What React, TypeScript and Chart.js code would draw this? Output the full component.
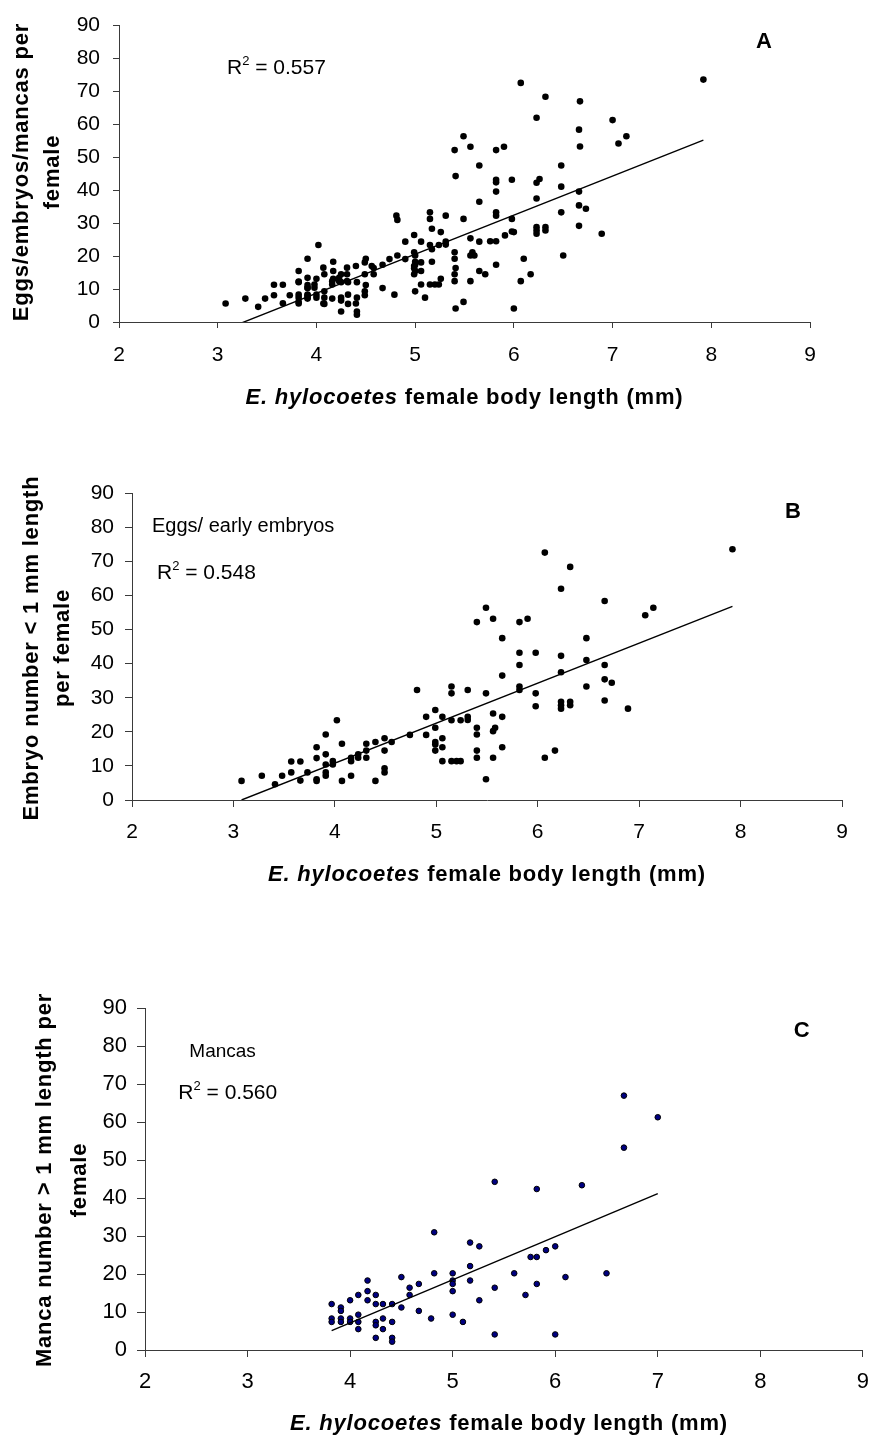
import React, { useEffect, useRef } from "react";
import { Chart, registerables } from "chart.js";

Chart.register(...registerables);

const FONT = 'Arial, "Liberation Sans", Helvetica, sans-serif';
const AXIS = "#3a3a3a";

// Panel B: eggs / early embryos  [female body length (mm), number per female]
const eggPoints: [number, number][] = [
  [3.08, 5.6], [3.28, 7.1], [3.41, 4.6], [3.48, 7.1], [3.57, 8.1], [3.57, 11.3],
  [3.66, 11.3], [3.66, 5.7], [3.73, 8.1],
  [3.82, 15.5], [3.82, 12.3], [3.82, 6.1], [3.82, 5.6],
  [3.91, 19.2], [3.91, 13.4], [3.91, 10.4], [3.91, 8.1], [3.91, 7.1],
  [3.98, 11.4], [3.98, 10.4], [4.02, 23.4], [4.07, 16.5], [4.07, 5.6],
  [4.16, 12.4], [4.16, 11.4], [4.16, 7.1], [4.23, 13.4], [4.23, 12.4],
  [4.31, 16.5], [4.31, 14.5], [4.31, 12.4], [4.40, 17.0], [4.40, 5.6],
  [4.49, 18.1], [4.49, 14.5], [4.49, 9.3], [4.49, 8.1], [4.56, 17.0],
  [4.74, 19.1], [4.81, 32.3], [4.90, 24.4], [4.90, 19.1],
  [4.99, 26.4], [4.99, 21.2], [4.99, 17.0], [4.99, 16.3], [4.99, 14.5],
  [5.06, 24.4], [5.06, 18.1], [5.06, 15.5], [5.06, 11.4],
  [5.15, 33.3], [5.15, 31.3], [5.15, 23.4], [5.15, 11.4], [5.20, 11.4],
  [5.24, 23.4], [5.24, 11.4], [5.31, 32.3], [5.31, 24.4], [5.31, 23.5],
  [5.40, 52.2], [5.40, 21.2], [5.40, 19.2], [5.40, 14.5], [5.40, 12.4],
  [5.49, 56.4], [5.49, 31.3], [5.49, 6.1],
  [5.56, 53.2], [5.56, 25.4], [5.56, 20.2], [5.58, 21.2], [5.56, 12.4],
  [5.65, 47.5], [5.65, 36.5], [5.65, 24.4], [5.65, 15.5],
  [5.82, 52.2], [5.82, 43.2], [5.82, 39.6], [5.82, 33.3], [5.82, 32.3],
  [5.90, 53.2], [5.98, 43.2], [5.98, 31.3], [5.98, 27.5],
  [6.07, 72.6], [6.07, 12.4], [6.17, 14.5],
  [6.23, 62.0], [6.23, 42.3], [6.23, 37.5], [6.23, 28.8], [6.23, 27.8], [6.23, 26.8],
  [6.32, 68.4], [6.32, 28.8], [6.32, 27.8],
  [6.48, 47.5], [6.48, 41.1], [6.48, 33.3],
  [6.66, 58.4], [6.66, 39.6], [6.66, 35.4], [6.66, 29.2],
  [6.73, 34.4], [6.89, 26.8], [7.06, 54.2], [7.14, 56.4], [7.92, 73.6],
];

// Panel C: mancas  [female body length (mm), number per female]
const mancaPoints: [number, number][] = [
  [3.82, 12.1], [3.82, 8.3], [3.82, 7.4],
  [3.91, 11.2], [3.91, 10.3], [3.91, 8.3], [3.91, 7.4],
  [4.00, 13.1], [4.00, 8.3], [4.00, 7.4],
  [4.08, 14.5], [4.08, 9.3], [4.08, 7.4], [4.08, 5.5],
  [4.17, 18.3], [4.17, 15.5], [4.17, 13.1],
  [4.25, 14.5], [4.25, 12.1], [4.25, 7.4], [4.25, 6.5], [4.25, 3.2],
  [4.32, 12.1], [4.32, 8.3], [4.32, 5.5],
  [4.41, 12.1], [4.41, 7.4], [4.41, 3.2], [4.41, 2.2],
  [4.50, 19.2], [4.50, 11.2], [4.58, 16.4], [4.58, 14.5],
  [4.67, 17.4], [4.67, 10.3], [4.79, 8.3], [4.82, 31.0], [4.82, 20.2],
  [5.00, 20.2], [5.00, 18.3], [5.00, 17.4], [5.00, 15.5], [5.00, 9.3],
  [5.10, 7.4], [5.17, 28.3], [5.17, 22.1], [5.17, 18.3],
  [5.26, 27.3], [5.26, 13.1],
  [5.41, 44.3], [5.41, 16.4], [5.41, 4.1],
  [5.60, 20.2], [5.71, 14.5], [5.76, 24.5],
  [5.82, 42.4], [5.82, 24.5], [5.82, 17.4], [5.91, 26.3],
  [6.00, 27.3], [6.00, 4.1], [6.10, 19.2], [6.26, 43.4], [6.50, 20.2],
  [6.67, 67.0], [6.67, 53.3], [7.00, 61.3],
];

// Panel A: eggs + embryos + mancas
const allPoints: [number, number][] = [...eggPoints, ...mancaPoints];

const xTicks = [2, 3, 4, 5, 6, 7, 8, 9];
const yTicks = [0, 10, 20, 30, 40, 50, 60, 70, 80, 90];

// Linear trend lines (end points)
const trendAll: [number, number][] = [[3.08, -2.2], [7.92, 55.2]];
const trendEgg: [number, number][] = [[3.08, 0.0], [7.92, 56.8]];
const trendManca: [number, number][] = [[3.82, 5.1], [7.0, 41.2]];

const panelLetters = ["A", "B", "C"];
const r2Labels = ["0.557", "0.548", "0.560"];
const seriesNotes = ["", "Eggs/ early embryos", "Mancas"];
const yTitles = [
  ["Eggs/embryos/mancas per", "female"],
  ["Embryo number < 1 mm length", "per female"],
  ["Manca number > 1 mm length per", "female"],
];
const xTitleItalic = "E. hylocoetes";
const xTitleRest = " female body length (mm)";

const PANELS = [
  {
    points: allPoints, trend: trendAll,
    top: 0, height: 440,
    area: { left: 119, right: 810, top: 17, bottom: 322 },
    tickSize: 21, xTickLen: 6, yTickLen: 6, xTickPad: 15, yTickPad: 13,
    yTitleX: [21.5, 52.5], yTitleCY: 172,
    xTitleCX: 464.5, xTitleBase: 404,
    r2: { x: 227, base: 74, size: 21 },
    letter: { x: 764, base: 48 },
    note: null as null | { x: number; base: number; size: number },
    fill: "#000000", border: "#000000", borderWidth: 0, radius: 3.3,
  },
  {
    points: eggPoints, trend: trendEgg,
    top: 450, height: 450,
    area: { left: 132, right: 842, top: 493.3, bottom: 800 },
    tickSize: 21, xTickLen: 7, yTickLen: 7, xTickPad: 13, yTickPad: 11,
    yTitleX: [31.5, 63], yTitleCY: 648,
    xTitleCX: 487, xTitleBase: 880.5,
    r2: { x: 157, base: 579.3, size: 21 },
    letter: { x: 793, base: 518.3 },
    note: { x: 152, base: 531.7, size: 20 },
    fill: "#000000", border: "#000000", borderWidth: 0, radius: 3.3,
  },
  {
    points: mancaPoints, trend: trendManca,
    top: 900, height: 538,
    area: { left: 145, right: 873, top: 1008.3, bottom: 1350 },
    tickSize: 22, xTickLen: 7, yTickLen: 8, xTickPad: 12, yTickPad: 10,
    yTitleX: [45, 80], yTitleCY: 1180,
    xTitleCX: 509, xTitleBase: 1430,
    r2: { x: 178.3, base: 1099, size: 21 },
    letter: { x: 801.7, base: 1036.7 },
    note: { x: 189.3, base: 1056.7, size: 19 },
    fill: "#000080", border: "#000000", borderWidth: 1, radius: 2.8,
  },
];

const X_AXIS_H = 40;
const W = 881;

function makeTextPlugin(spec: any, idx: number) {
  return {
    id: "panelText" + idx,
    afterDraw(chart: any) {
      const ctx: CanvasRenderingContext2D = chart.ctx;
      const off = spec.top;
      ctx.save();
      ctx.fillStyle = "#000";

      // y-axis title (two rotated lines)
      ctx.font = `bold 22px ${FONT}`;
      (ctx as any).letterSpacing = "0.8px";
      ctx.textAlign = "center";
      ctx.textBaseline = "middle";
      yTitles[idx].forEach((line, i) => {
        ctx.save();
        ctx.translate(spec.yTitleX[i], spec.yTitleCY - off);
        ctx.rotate(-Math.PI / 2);
        ctx.fillText(line, 0, 0);
        ctx.restore();
      });

      // x-axis title with italic species name
      const fItal = `italic bold 22px ${FONT}`;
      const fBold = `bold 22px ${FONT}`;
      ctx.textAlign = "left";
      ctx.textBaseline = "alphabetic";
      ctx.font = fItal;
      const w1 = ctx.measureText(xTitleItalic).width;
      ctx.font = fBold;
      const w2 = ctx.measureText(xTitleRest).width;
      let x = spec.xTitleCX - (w1 + w2) / 2;
      const yb = spec.xTitleBase - off;
      ctx.font = fItal;
      ctx.fillText(xTitleItalic, x, yb);
      ctx.font = fBold;
      ctx.fillText(xTitleRest, x + w1, yb);
      (ctx as any).letterSpacing = "0px";

      // R² label
      const s = spec.r2.size;
      let rx = spec.r2.x;
      const ry = spec.r2.base - off;
      ctx.font = `${s}px ${FONT}`;
      ctx.fillText("R", rx, ry);
      rx += ctx.measureText("R").width;
      ctx.font = `${Math.round(s * 0.62)}px ${FONT}`;
      ctx.fillText("2", rx, ry - s * 0.43);
      rx += ctx.measureText("2").width;
      ctx.font = `${s}px ${FONT}`;
      ctx.fillText(" = " + r2Labels[idx], rx, ry);

      // series note
      if (spec.note) {
        ctx.font = `${spec.note.size}px ${FONT}`;
        ctx.fillText(seriesNotes[idx], spec.note.x, spec.note.base - off);
      }

      // panel letter
      ctx.font = `bold 22px ${FONT}`;
      ctx.textAlign = "center";
      ctx.fillText(panelLetters[idx], spec.letter.x, spec.letter.base - off);

      ctx.restore();
    },
  };
}

function buildConfig(spec: any, idx: number): any {
  const a = spec.area;
  const topC = a.top - spec.top;
  const bottomC = a.bottom - spec.top;
  return {
    type: "scatter",
    data: {
      datasets: [
        {
          type: "line",
          data: spec.trend.map((p: [number, number]) => ({ x: p[0], y: p[1] })),
          borderColor: "#000",
          borderWidth: 1.4,
          pointRadius: 0,
          fill: false,
          tension: 0,
          order: 0,
        },
        {
          type: "scatter",
          data: spec.points.map((p: [number, number]) => ({ x: p[0], y: p[1] })),
          backgroundColor: spec.fill,
          borderColor: spec.border,
          borderWidth: spec.borderWidth,
          pointRadius: spec.radius,
          pointHoverRadius: spec.radius,
          order: 1,
        },
      ],
    },
    options: {
      responsive: false,
      animation: false,
      events: [],
      layout: {
        padding: {
          left: 0,
          top: topC,
          right: W - a.right,
          bottom: spec.height - bottomC - X_AXIS_H,
        },
      },
      plugins: { legend: { display: false }, tooltip: { enabled: false } },
      scales: {
        x: {
          type: "linear",
          position: "bottom",
          min: xTicks[0],
          max: xTicks[xTicks.length - 1],
          afterFit: (s: any) => { s.height = X_AXIS_H; },
          afterBuildTicks: (s: any) => { s.ticks = xTicks.map((v) => ({ value: v })); },
          ticks: {
            color: "#000",
            font: { family: FONT, size: spec.tickSize },
            padding: spec.xTickPad,
            maxRotation: 0,
            autoSkip: false,
          },
          grid: { drawOnChartArea: false, drawTicks: true, tickLength: spec.xTickLen, color: AXIS, lineWidth: 1 },
          border: { display: true, color: AXIS, width: 1 },
        },
        y: {
          type: "linear",
          position: "left",
          min: yTicks[0],
          max: yTicks[yTicks.length - 1],
          afterFit: (s: any) => { s.width = a.left; },
          afterBuildTicks: (s: any) => { s.ticks = yTicks.map((v) => ({ value: v })); },
          ticks: {
            color: "#000",
            font: { family: FONT, size: spec.tickSize },
            padding: spec.yTickPad,
            autoSkip: false,
          },
          grid: { drawOnChartArea: false, drawTicks: true, tickLength: spec.yTickLen, color: AXIS, lineWidth: 1 },
          border: { display: true, color: AXIS, width: 1 },
        },
      },
    },
    plugins: [makeTextPlugin(spec, idx)],
  };
}

function Panel({ spec, idx }: { spec: any; idx: number }) {
  const ref = useRef<HTMLCanvasElement>(null);
  useEffect(() => {
    const canvas = ref.current;
    if (!canvas) return;
    const chart = new Chart(canvas, buildConfig(spec, idx));
    return () => chart.destroy();
  }, [spec, idx]);
  return (
    <canvas
      ref={ref}
      width={W}
      height={spec.height}
      style={{ position: "absolute", left: 0, top: spec.top, width: W, height: spec.height, display: "block" }}
    />
  );
}

export default function App() {
  return (
    <div style={{ position: "absolute", left: 0, top: 0, width: W, height: 1438, background: "#fff", overflow: "hidden" }}>
      {PANELS.map((p, i) => (
        <Panel key={i} spec={p} idx={i} />
      ))}
    </div>
  );
}
